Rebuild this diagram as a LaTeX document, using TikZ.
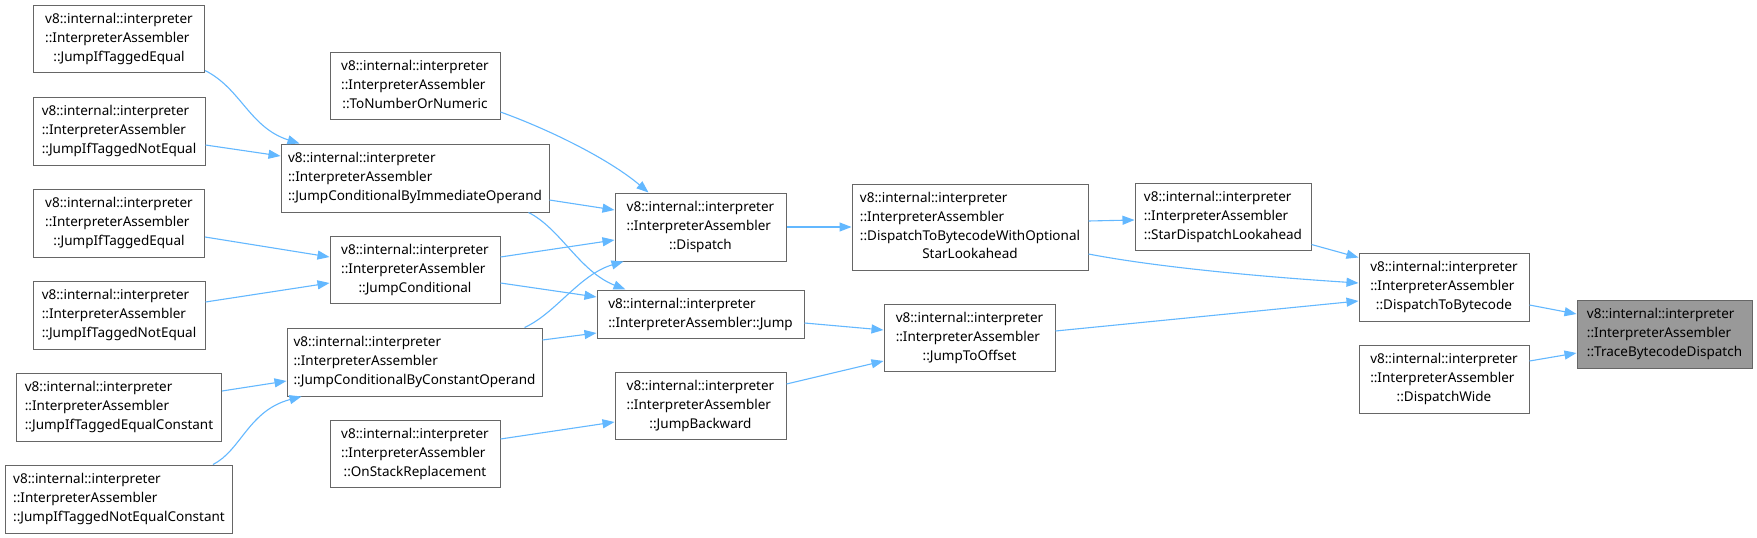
\documentclass[tikz,border=0pt]{standalone}
\usepackage{fontspec}
\setmainfont{Noto Sans}
\usetikzlibrary{arrows.meta,calc}
\definecolor{edgeblue}{HTML}{63B8FF}
\definecolor{boxgray}{HTML}{666666}
\definecolor{hlgray}{HTML}{999999}
\newcommand\ia[1]{\begin{tabular}{@{}l@{}}v8::internal::interpreter\\::InterpreterAssembler\\\multicolumn{1}{@{}c@{}}{#1}\end{tabular}}
\begin{document}
\begin{tikzpicture}[x=1pt,y=-1pt,
  fn/.style={draw=boxgray, fill=white, line width=1pt, inner sep=0pt, font=\fontsize{13.5}{18.8}\selectfont},
  hl/.style={fn, fill=hlgray},
  cl/.style={draw=edgeblue, line width=1.1pt, -{Triangle[length=12pt,width=9pt]}}]
\renewcommand\arraystretch{1}
\useasboundingbox[fill=white] (0,0) rectangle (1757,538);

% column A
\node[fn, minimum width=171, minimum height=67] (A1) at (119,38.5) {\ia{::JumpIfTaggedEqual}};
\node[fn, minimum width=172, minimum height=68] (A2) at (119,131) {\ia{::JumpIfTaggedNotEqual}};
\node[fn, minimum width=171, minimum height=68] (A3) at (119,223) {\ia{::JumpIfTaggedEqual}};
\node[fn, minimum width=172, minimum height=68] (A4) at (119,315) {\ia{::JumpIfTaggedNotEqual}};
\node[fn, minimum width=205, minimum height=68] (A5) at (119,407) {\ia{::JumpIfTaggedEqualConstant}};
\node[fn, minimum width=227, minimum height=68] (A6) at (119,499) {\ia{::JumpIfTaggedNotEqualConstant}};
% column B
\node[fn, minimum width=170, minimum height=67] (B1) at (415,85.5) {\ia{::ToNumberOrNumeric}};
\node[fn, minimum width=268, minimum height=68] (B2) at (415,178) {\ia{::JumpConditionalByImmediateOperand}};
\node[fn, minimum width=170, minimum height=67] (B3) at (415,269.5) {\ia{::JumpConditional}};
\node[fn, minimum width=255, minimum height=68] (B4) at (414.5,362) {\ia{::JumpConditionalByConstantOperand}};
\node[fn, minimum width=170, minimum height=67] (B5) at (415,453.5) {\ia{::OnStackReplacement}};
% column C
\node[fn, minimum width=171, minimum height=68] (C1) at (700.5,227) {\ia{::Dispatch}};
\node[fn, minimum width=207, minimum height=48] (C2) at (700.5,314) {\begin{tabular}{@{}l@{}}v8::internal::interpreter\\\multicolumn{1}{@{}c@{}}{::InterpreterAssembler::Jump}\end{tabular}};
\node[fn, minimum width=171, minimum height=67] (C3) at (700.5,405.5) {\ia{::JumpBackward}};
% column D
\node[fn, minimum width=236, minimum height=86] (D1) at (970,227) {\begin{tabular}{@{}l@{}}v8::internal::interpreter\\::InterpreterAssembler\\::DispatchToBytecodeWithOptional\\\multicolumn{1}{@{}c@{}}{StarLookahead}\end{tabular}};
\node[fn, minimum width=171, minimum height=67] (D2) at (969.5,337.5) {\ia{::JumpToOffset}};
% column E/F/G
\node[fn, minimum width=176, minimum height=67] (E1) at (1223,216.5) {\ia{::StarDispatchLookahead}};
\node[fn, minimum width=170, minimum height=68] (F1) at (1444,287) {\ia{::DispatchToBytecode}};
\node[fn, minimum width=170, minimum height=68] (F2) at (1444,379) {\ia{::DispatchWide}};
\node[hl, minimum width=175, minimum height=68] (G) at (1664.5,334) {\ia{::TraceBytecodeDispatch}};

% edges
\draw[cl] ($(A1.south east)+(0,-2)$) .. controls +(36,18) and +(-50,-16) .. ($(B2.north west)+(19,0)$);
\draw[cl] ($(A2.east)+(0,14)$) -- ($(B2.west)+(0,-22)$);
\draw[cl] ($(A3.east)+(0,14)$) -- ($(B3.west)+(0,-12.5)$);
\draw[cl] ($(A4.east)+(0,-13)$) -- ($(B3.west)+(0,13.5)$);
\draw[cl] ($(A5.east)+(0,-16)$) -- ($(B4.west)+(0,19)$);
\draw[cl] ($(A6.north east)+(-20,0)$) .. controls +(28,-14) and +(-53,14) .. ($(B4.south west)+(15,0)$);

\draw[cl] ($(B1.east)+(0,26.5)$) .. controls +(50,18) and +(-39,-33) .. ($(C1.north west)+(34,0)$);
\draw[cl] ($(B2.east)+(0,22)$) -- ($(C1.west)+(0,-17)$);
\draw[cl] ($(B3.east)+(0,-12.5)$) -- ($(C1.west)+(0,13)$);
\draw[cl] ($(B4.north east)+(-18,0)$) .. controls +(31,-14) and +(-44,13) .. ($(C1.south west)+(9,0)$);
\draw[cl] ($(B2.south east)+(-21,0)$) .. controls +(32,16) and +(-46,-18) .. ($(C2.north west)+(29,0)$);
\draw[cl] ($(B3.east)+(0,13.5)$) -- ($(C2.west)+(0,-17)$);
\draw[cl] ($(B4.east)+(0,-22)$) -- ($(C2.west)+(0,19)$);
\draw[cl] ($(B5.east)+(0,-14.5)$) -- ($(C3.west)+(0,16.5)$);

\draw[cl] (C1.east) -- (D1.west);
\draw[cl] ($(C2.east)+(0,9)$) -- ($(D2.west)+(0,-7.5)$);
\draw[cl] ($(C3.east)+(0,-21.5)$) -- ($(D2.west)+(0,23.5)$);

\draw[cl] ($(D1.east)+(0,-6)$) -- ($(E1.west)+(0,3.5)$);
\draw[cl] ($(D1.east)+(0,27)$) .. controls +(62,12) and +(-109,-7) .. ($(F1.west)+(0,-4)$);
\draw[cl] ($(D2.east)+(0,-6.5)$) -- ($(F1.west)+(0,14)$);
\draw[cl] ($(E1.south east)+(0,-6)$) -- ($(F1.north west)+(0,5)$);

\draw[cl] ($(F1.east)+(0,18)$) -- ($(G.west)+(0,-20)$);
\draw[cl] ($(F2.east)+(0,-18)$) -- ($(G.west)+(0,19)$);
\end{tikzpicture}
\end{document}
